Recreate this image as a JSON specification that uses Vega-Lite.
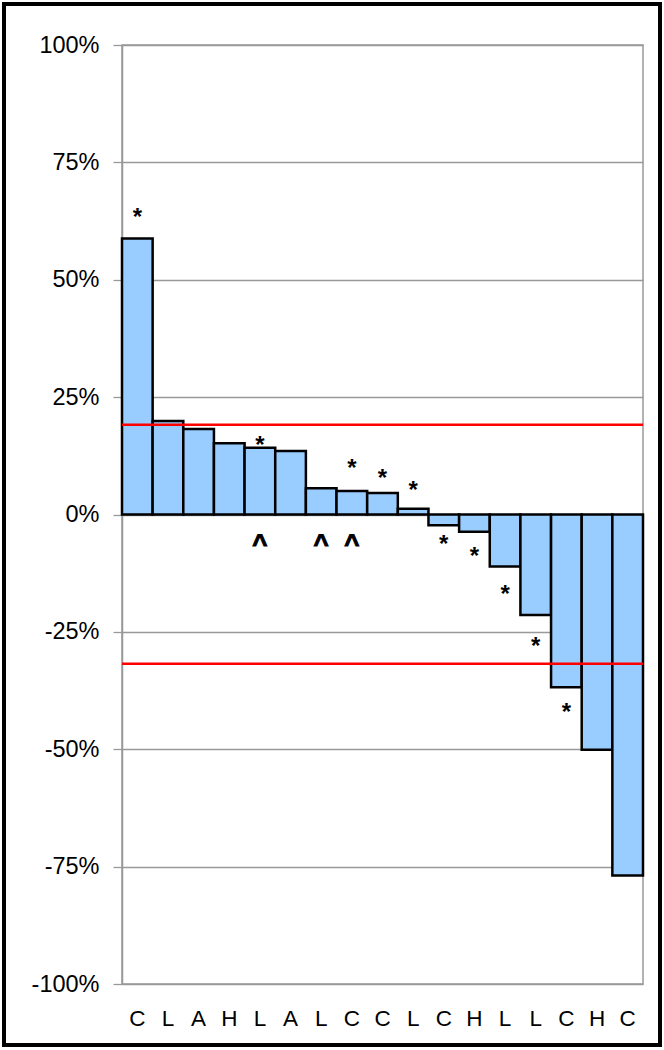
{
  "$schema": "https://vega.github.io/schema/vega-lite/v6.json",
  "width": 521,
  "height": 939,
  "autosize": {"type": "none"},
  "padding": {"top": 45, "left": 122, "right": 21, "bottom": 66},
  "background": "white",
  "config": {
    "view": {"stroke": "#999999", "strokeWidth": 1.5},
    "font": "Liberation Sans"
  },
  "datasets": {
    "bars": [
      {"key": "01-C", "value": 0.588},
      {"key": "02-L", "value": 0.199},
      {"key": "03-A", "value": 0.182},
      {"key": "04-H", "value": 0.152},
      {"key": "05-L", "value": 0.142},
      {"key": "06-A", "value": 0.135},
      {"key": "07-L", "value": 0.056},
      {"key": "08-C", "value": 0.050},
      {"key": "09-C", "value": 0.046},
      {"key": "10-L", "value": 0.012},
      {"key": "11-C", "value": -0.023},
      {"key": "12-H", "value": -0.037},
      {"key": "13-L", "value": -0.111},
      {"key": "14-L", "value": -0.214},
      {"key": "15-C", "value": -0.368},
      {"key": "16-H", "value": -0.501},
      {"key": "17-C", "value": -0.769}
    ],
    "marks": [
      {"key": "01-C", "sym": "*", "pos": 0.645},
      {"key": "05-L", "sym": "*", "pos": 0.160},
      {"key": "08-C", "sym": "*", "pos": 0.110},
      {"key": "09-C", "sym": "*", "pos": 0.089},
      {"key": "10-L", "sym": "*", "pos": 0.064},
      {"key": "11-C", "sym": "*", "pos": -0.051},
      {"key": "12-H", "sym": "*", "pos": -0.077},
      {"key": "13-L", "sym": "*", "pos": -0.157},
      {"key": "14-L", "sym": "*", "pos": -0.268},
      {"key": "15-C", "sym": "*", "pos": -0.408},
      {"key": "05-L", "sym": "^", "pos": -0.052},
      {"key": "07-L", "sym": "^", "pos": -0.052},
      {"key": "08-C", "sym": "^", "pos": -0.052}
    ],
    "refs": [
      {"ref": 0.191},
      {"ref": -0.318}
    ]
  },
  "layer": [
    {
      "data": {"name": "bars"},
      "mark": {"type": "bar", "fill": "#99CCFF", "stroke": "black", "strokeWidth": 2.5},
      "encoding": {
        "x": {
          "field": "key", "type": "nominal", "sort": null,
          "scale": {"paddingInner": 0, "paddingOuter": 0},
          "axis": {
            "title": null, "labelAngle": 0, "ticks": false, "domain": false,
            "labelExpr": "slice(datum.label, 3)",
            "labelFontSize": 22.5, "labelColor": "black", "labelPadding": 23,
            "labelFont": "Liberation Sans"
          }
        },
        "y": {
          "field": "value", "type": "quantitative",
          "scale": {"domain": [-1, 1], "nice": false, "zero": true},
          "axis": {
            "title": null, "format": ".0%", "values": [-1, -0.75, -0.5, -0.25, 0, 0.25, 0.5, 0.75, 1],
            "labelExpr": "replace(datum.label, '\u2212', '-')",
            "grid": true, "gridColor": "#999999", "gridWidth": 1.3,
            "domainColor": "#999999", "domainWidth": 1.5,
            "tickColor": "#999999", "tickSize": 9, "tickWidth": 1.3,
            "labelFontSize": 23.5, "labelColor": "black", "labelPadding": 14,
            "labelFont": "Liberation Sans"
          }
        },
        "y2": {"datum": 0}
      }
    },
    {
      "data": {"name": "refs"},
      "mark": {"type": "rule", "color": "#FF0000", "strokeWidth": 2.5},
      "encoding": {
        "y": {"field": "ref", "type": "quantitative"}
      }
    },
    {
      "data": {"name": "marks"},
      "transform": [{"filter": "datum.sym === '*'"}],
      "mark": {"type": "text", "fontSize": 24, "fontWeight": "bold", "color": "black", "baseline": "alphabetic", "dy": 13.5, "font": "Liberation Sans"},
      "encoding": {
        "x": {"field": "key", "type": "nominal", "sort": null},
        "y": {"field": "pos", "type": "quantitative"},
        "text": {"field": "sym"}
      }
    },
    {
      "data": {"name": "marks"},
      "transform": [{"filter": "datum.sym === '^'"}],
      "mark": {"type": "text", "fontSize": 26, "fontWeight": "bold", "color": "black", "stroke": "black", "strokeWidth": 1, "baseline": "alphabetic", "dy": 14, "font": "Liberation Sans"},
      "encoding": {
        "x": {"field": "key", "type": "nominal", "sort": null},
        "y": {"field": "pos", "type": "quantitative"},
        "text": {"field": "sym"}
      }
    },
    {
      "data": {"values": [{}]},
      "mark": {"type": "rect", "fill": null, "stroke": "black", "strokeWidth": 4, "clip": false},
      "encoding": {
        "x": {"value": -118},
        "x2": {"value": 538},
        "y": {"value": -41},
        "y2": {"value": 1000}
      }
    }
  ]
}
